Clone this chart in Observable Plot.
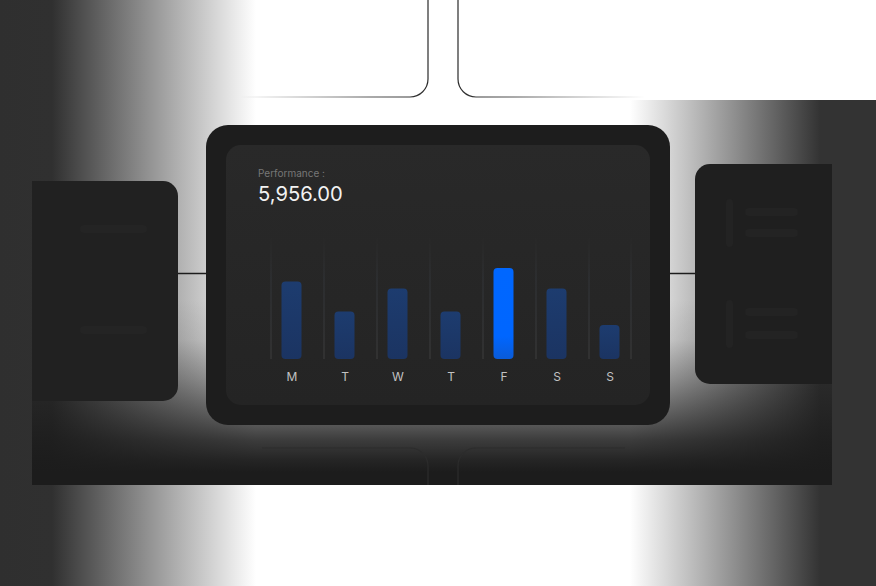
<!DOCTYPE html>
<html><head><meta charset="utf-8">
<script src="https://cdn.jsdelivr.net/npm/d3@7"></script>
<script src="https://cdn.jsdelivr.net/npm/@observablehq/plot@0.6"></script>
<style>
html,body{margin:0;padding:0}
body{width:876px;height:586px;overflow:hidden;background:#fff;position:relative;font-family:Inter,"Noto Sans",sans-serif}
.abs{position:absolute}
#chart svg text{font-family:Inter,sans-serif;font-size:12px;fill:#c2c2c2}
</style></head><body>
<!-- background fades -->
<div class="abs" style="left:0;top:0;width:256px;height:586px;background:linear-gradient(to right,#2f2f2f 0px,#303030 52px,#ffffff 256px)"></div>
<div class="abs" style="left:630px;top:100px;width:246px;height:486px;background:linear-gradient(to right,#ffffff 0px,#333333 190px,#333333 246px)"></div>
<div class="abs" style="left:32px;top:100px;width:800px;height:385px;background:linear-gradient(to bottom,rgba(28,28,28,0) 0px,rgba(28,28,28,0) 200px,rgba(28,28,28,.09) 240px,rgba(28,28,28,.38) 280px,rgba(28,28,28,.62) 310px,rgba(28,28,28,.86) 340px,rgba(28,28,28,.96) 360px,#1c1c1c 372px,#1c1c1c 385px)"></div>

<svg class="abs" style="left:0;top:0" width="876" height="586">
  <defs>
    <linearGradient id="tl" gradientUnits="userSpaceOnUse" x1="240" y1="0" x2="428" y2="0">
      <stop offset="0" stop-color="#2a2a2a" stop-opacity="0"/>
      <stop offset="0.7" stop-color="#2a2a2a" stop-opacity="0.8"/>
      <stop offset="1" stop-color="#2a2a2a" stop-opacity="1"/>
    </linearGradient>
    <linearGradient id="tr" gradientUnits="userSpaceOnUse" x1="458" y1="0" x2="645" y2="0">
      <stop offset="0" stop-color="#2a2a2a" stop-opacity="1"/>
      <stop offset="0.3" stop-color="#2a2a2a" stop-opacity="0.8"/>
      <stop offset="1" stop-color="#2a2a2a" stop-opacity="0"/>
    </linearGradient>
  </defs>
  <path d="M240 97 H410 A18 18 0 0 0 428 79 V0" fill="none" stroke="url(#tl)" stroke-width="1.2"/>
  <path d="M458 0 V79 A18 18 0 0 0 476 97 H645" fill="none" stroke="url(#tr)" stroke-width="1.2"/>
  <path d="M262 448 H410 A18 18 0 0 1 428 466 V485" fill="none" stroke="#2c2c2c" stroke-width="1.2"/>
  <path d="M458 485 V466 A18 18 0 0 1 476 448 H625" fill="none" stroke="#2c2c2c" stroke-width="1.2"/>
  <line x1="178" y1="273.5" x2="207" y2="273.5" stroke="#1c1c1c" stroke-width="1.5"/>
  <line x1="669" y1="273.5" x2="696" y2="273.5" stroke="#1c1c1c" stroke-width="1.5"/>
</svg>

<!-- side cards -->
<div class="abs" style="left:32px;top:181px;width:146px;height:220px;border-radius:0 15px 15px 0;background:#212121"></div>
<div class="abs" style="left:80px;top:225px;width:67px;height:8px;border-radius:4px;background:#242424"></div>
<div class="abs" style="left:80px;top:326px;width:67px;height:8px;border-radius:4px;background:#242424"></div>

<div class="abs" style="left:695px;top:164px;width:137px;height:220px;border-radius:15px 0 0 15px;background:#1f1f1f"></div>
<div class="abs" style="left:726px;top:199px;width:7px;height:48px;border-radius:4px;background:#232323"></div>
<div class="abs" style="left:745px;top:208px;width:53px;height:8px;border-radius:4px;background:#232323"></div>
<div class="abs" style="left:745px;top:229px;width:53px;height:8px;border-radius:4px;background:#232323"></div>
<div class="abs" style="left:726px;top:300px;width:7px;height:48px;border-radius:4px;background:#232323"></div>
<div class="abs" style="left:745px;top:308px;width:53px;height:8px;border-radius:4px;background:#232323"></div>
<div class="abs" style="left:745px;top:331px;width:53px;height:8px;border-radius:4px;background:#232323"></div>

<!-- center card -->
<div class="abs" style="left:206px;top:125px;width:464px;height:300px;border-radius:22px;background:#1d1d1d"></div>
<div class="abs" style="left:226px;top:145px;width:424px;height:260px;border-radius:15px;background:linear-gradient(to bottom,#292929,#242424)"></div>
<div class="abs" style="left:258px;top:167.5px;font-size:10px;line-height:10px;color:#777;white-space:nowrap">Performance :</div>
<div class="abs" id="total" style="left:258px;top:183.7px;font-size:20.2px;line-height:20px;color:#f2f2f2;white-space:nowrap"></div>
<div id="chart" class="abs" style="left:246px;top:225px"></div>

<script>
const days = ["M", "T", "W", "T", "F", "S", "S"];
const values = [775, 475, 705, 475, 910, 705, 340];
const highlighted = [false, false, false, false, true, false, false];
const yMax = 1240;
const totalLabel = "5,956.00";

document.getElementById("total").textContent = totalLabel;

const idx = d3.range(days.length);
const rows = days.map((d, i) => ({i, day: d, value: values[i], hi: highlighted[i]}));

const chart = Plot.plot({
  width: 404,
  height: 170,
  marginLeft: 18.5,
  marginRight: 14.5,
  marginTop: 10,
  marginBottom: 36,
  style: {background: "transparent", color: "#c2c2c2", fontFamily: "Inter, sans-serif", fontSize: "12px", overflow: "visible"},
  x: {domain: idx, padding: 0, tickSize: 0, tickPadding: 13, tickFormat: i => days[i], label: null},
  y: {domain: [0, yMax], axis: null},
  marks: [
    Plot.ruleX(idx, {x: d => d, dx: -21, stroke: "url(#sepGrad)", strokeWidth: 1}),
    Plot.ruleX([idx[idx.length - 1]], {x: d => d, dx: 21, stroke: "url(#sepGrad)", strokeWidth: 1}),
    Plot.barY(rows.filter(d => !d.hi), {x: "i", y: "value", insetLeft: 16.5, insetRight: 16.5, rx: 4, fill: "url(#barMuted)"}),
    Plot.barY(rows.filter(d => d.hi), {x: "i", y: "value", insetLeft: 16.5, insetRight: 16.5, rx: 4, fill: "url(#barHi)"})
  ]
});
const svg = chart.tagName.toLowerCase() === "svg" ? chart : chart.querySelector("svg");
svg.insertAdjacentHTML("afterbegin", `<defs>
  <linearGradient id="sepGrad" gradientUnits="userSpaceOnUse" x1="0" y1="10" x2="0" y2="134">
    <stop offset="0" stop-color="#3a3a3a" stop-opacity="0"/>
    <stop offset="0.35" stop-color="#363a40" stop-opacity="0.7"/>
    <stop offset="1" stop-color="#3e3e3e" stop-opacity="1"/>
  </linearGradient>
  <linearGradient id="barMuted" x1="0" y1="0" x2="0" y2="1">
    <stop offset="0" stop-color="#1d3c6f"/>
    <stop offset="1" stop-color="#1b3462"/>
  </linearGradient>
  <linearGradient id="barHi" x1="0" y1="0" x2="0" y2="1">
    <stop offset="0" stop-color="#0067ff"/>
    <stop offset="0.75" stop-color="#0066ff"/>
    <stop offset="1" stop-color="#0a5bd8"/>
  </linearGradient>
</defs>`);
document.getElementById("chart").appendChild(chart);
</script>
</body></html>
